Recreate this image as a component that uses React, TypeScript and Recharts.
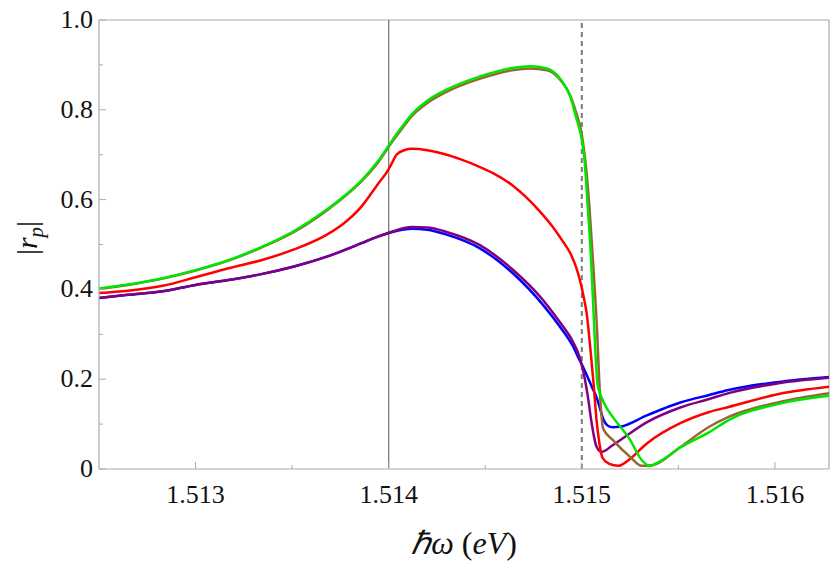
import { LineChart, Line, XAxis, YAxis, ReferenceLine } from 'recharts';

// energy axis (eV) and |r_p| values
const xMin = 1.5125;
const xMax = 1.51628;
const xTicks = [1.513, 1.5135, 1.514, 1.5145, 1.515, 1.5155, 1.516];
const yTicks = [0, 0.1, 0.2, 0.3, 0.4, 0.5, 0.6, 0.7, 0.8, 0.9, 1.0];

const greenX = [1.5125, 1.51265, 1.51283, 1.513, 1.51317, 1.51334, 1.51351, 1.51368, 1.51377, 1.51386, 1.51394, 1.51402, 1.51406, 1.51412, 1.5142, 1.5143, 1.51447, 1.51464, 1.51473, 1.51482, 1.51489, 1.51494, 1.51497, 1.515, 1.515014, 1.51503, 1.51505, 1.515066, 1.515081, 1.515102, 1.515123, 1.51516, 1.51525, 1.51531, 1.51535, 1.5154, 1.51551, 1.51566, 1.51576, 1.51602, 1.51628];
const greenY = [0.402, 0.411, 0.425, 0.443, 0.465, 0.494, 0.53, 0.578, 0.608, 0.643, 0.683, 0.733, 0.757, 0.79, 0.82, 0.845, 0.874, 0.893, 0.897, 0.892, 0.868, 0.83, 0.784, 0.733, 0.688, 0.59, 0.45, 0.3, 0.19, 0.16, 0.14, 0.116, 0.065, 0.02, 0.007, 0.016, 0.048, 0.082, 0.109, 0.145, 0.163];

const brownX = [1.5125, 1.51265, 1.51283, 1.513, 1.51317, 1.51334, 1.51351, 1.51368, 1.51377, 1.51386, 1.51394, 1.51402, 1.51406, 1.51412, 1.5142, 1.5143, 1.51447, 1.51464, 1.51473, 1.51482, 1.51489, 1.51494, 1.51497, 1.515, 1.51502, 1.51504, 1.51506, 1.51508, 1.51509, 1.5151, 1.51511, 1.51516, 1.51525, 1.51531, 1.51537, 1.51551, 1.51566, 1.51576, 1.51602, 1.51628];
const brownY = [0.401, 0.41, 0.424, 0.442, 0.464, 0.493, 0.528, 0.576, 0.606, 0.641, 0.68, 0.73, 0.753, 0.786, 0.815, 0.84, 0.869, 0.888, 0.892, 0.888, 0.866, 0.832, 0.795, 0.745, 0.68, 0.58, 0.45, 0.3, 0.2, 0.13, 0.09, 0.065, 0.027, 0.007, 0.009, 0.049, 0.094, 0.116, 0.149, 0.169];

const redX = [1.5125, 1.51265, 1.51283, 1.513, 1.51317, 1.51334, 1.51351, 1.51368, 1.51377, 1.51386, 1.51394, 1.514, 1.51402, 1.51404, 1.51408, 1.51412, 1.5142, 1.5143, 1.51437, 1.51447, 1.51454, 1.51464, 1.51471, 1.51478, 1.51485, 1.5149, 1.51494, 1.51497, 1.51499, 1.515009, 1.515025, 1.515045, 1.515061, 1.515076, 1.515092, 1.515107, 1.51514, 1.51519, 1.51523, 1.51534, 1.51551, 1.51566, 1.51576, 1.51602, 1.51628];
const redY = [0.392, 0.397, 0.408, 0.427, 0.447, 0.465, 0.489, 0.522, 0.548, 0.585, 0.632, 0.668, 0.684, 0.7, 0.71, 0.713, 0.71, 0.7, 0.69, 0.673, 0.659, 0.632, 0.606, 0.575, 0.539, 0.508, 0.481, 0.45, 0.421, 0.385, 0.347, 0.265, 0.19, 0.11, 0.055, 0.025, 0.012, 0.007, 0.016, 0.058, 0.102, 0.127, 0.138, 0.167, 0.183];

const purpleX = [1.5125, 1.51265, 1.51283, 1.513, 1.51317, 1.51334, 1.51351, 1.51368, 1.51386, 1.51394, 1.51402, 1.51412, 1.5142, 1.5143, 1.51447, 1.51464, 1.5148, 1.514885, 1.514952, 1.514988, 1.515009, 1.51503, 1.51505, 1.515076, 1.515102, 1.51516, 1.51534, 1.51551, 1.51566, 1.51576, 1.51602, 1.51628];
const purpleY = [0.381, 0.388, 0.396, 0.41, 0.421, 0.434, 0.451, 0.473, 0.503, 0.517, 0.529, 0.539, 0.538, 0.528, 0.499, 0.445, 0.376, 0.328, 0.285, 0.25, 0.215, 0.165, 0.105, 0.05, 0.038, 0.053, 0.105, 0.137, 0.156, 0.169, 0.191, 0.203];

const blueX = [1.5125, 1.51265, 1.51283, 1.513, 1.51317, 1.51334, 1.51351, 1.51368, 1.51386, 1.51394, 1.51402, 1.51412, 1.5142, 1.5143, 1.51447, 1.51464, 1.5148, 1.514885, 1.514952, 1.514988, 1.515009, 1.51503, 1.515055, 1.515076, 1.515092, 1.515112, 1.515133, 1.51516, 1.515195, 1.51534, 1.51551, 1.51566, 1.51576, 1.51602, 1.51628];
const blueY = [0.381, 0.388, 0.396, 0.41, 0.421, 0.434, 0.451, 0.473, 0.503, 0.517, 0.528, 0.535, 0.533, 0.522, 0.492, 0.437, 0.365, 0.318, 0.275, 0.243, 0.225, 0.205, 0.18, 0.16, 0.138, 0.11, 0.097, 0.093, 0.094, 0.12, 0.148, 0.165, 0.176, 0.194, 0.205];

const toPoints = (xs: number[], ys: number[]) => xs.map((x, i) => ({ x, y: ys[i] }));

// drawing order: blue under purple, green on top
const series = [
  { key: 'blue', color: '#0000ff', data: toPoints(blueX, blueY) },
  { key: 'purple', color: '#800080', data: toPoints(purpleX, purpleY) },
  { key: 'red', color: '#ff0000', data: toPoints(redX, redY) },
  { key: 'brown', color: '#996633', data: toPoints(brownX, brownY) },
  { key: 'green', color: '#00e600', data: toPoints(greenX, greenY) },
];

const serif = '"Liberation Serif", "Times New Roman", Times, serif';
const frameGray = '#ababab';

function XTick({ x, y, payload }: any) {
  const v = payload.value;
  const major = Math.abs(v * 1000 - Math.round(v * 1000)) < 1e-6;
  return (
    <g>
      <line x1={x} x2={x} y1={y} y2={y - (major ? 7 : 4)} stroke={frameGray} strokeWidth={1} />
      {major && (
        <text x={x} y={y + 34} textAnchor="middle" fontFamily={serif} fontSize={26} fill="#111">
          {v.toFixed(3)}
        </text>
      )}
    </g>
  );
}

function YTick({ x, y, payload }: any) {
  const v = payload.value;
  const major = Math.abs(v * 5 - Math.round(v * 5)) < 1e-6;
  return (
    <g>
      <line x1={x} x2={x + (major ? 7 : 4)} y1={y} y2={y} stroke={frameGray} strokeWidth={1} />
      {major && (
        <text x={x - 6} y={y + 8} textAnchor="end" fontFamily={serif} fontSize={26} fill="#111">
          {v === 0 ? '0' : v.toFixed(1)}
        </text>
      )}
    </g>
  );
}

export default function App() {
  return (
    <div style={{ position: 'absolute', left: 0, top: 0, width: 830, height: 566, background: '#fff' }}>
      <LineChart width={830} height={566} margin={{ top: 20, right: 1, bottom: 0, left: 0 }}>
        <XAxis
          type="number"
          dataKey="x"
          domain={[xMin, xMax]}
          ticks={xTicks}
          interval={0}
          allowDataOverflow
          height={97}
          tickSize={0}
          tickMargin={0}
          tickLine={false}
          axisLine={{ stroke: frameGray, strokeWidth: 1.2 }}
          tick={<XTick />}
        />
        <YAxis
          type="number"
          dataKey="y"
          domain={[0, 1]}
          ticks={yTicks}
          interval={0}
          allowDataOverflow
          width={99}
          tickSize={0}
          tickMargin={0}
          tickLine={false}
          axisLine={{ stroke: frameGray, strokeWidth: 1.2 }}
          tick={<YTick />}
        />
        <ReferenceLine y={1} stroke={frameGray} strokeWidth={1.2} />
        <ReferenceLine x={xMax} stroke={frameGray} strokeWidth={1.2} />
        <ReferenceLine x={1.514} stroke="#7a7a7a" strokeWidth={1.3} />
        <ReferenceLine x={1.515} stroke="#7a7a7a" strokeWidth={2} strokeDasharray="5 4" />
        {series.map((s) => (
          <Line
            key={s.key}
            data={s.data}
            dataKey="y"
            type="monotone"
            stroke={s.color}
            strokeWidth={2.5}
            dot={false}
            activeDot={false}
            isAnimationActive={false}
          />
        ))}
        <text x={464} y={554} textAnchor="middle" fontFamily={serif} fontSize={32} fill="#111">
          <tspan fontStyle="italic">ℏω</tspan> (<tspan fontStyle="italic">eV</tspan>)
        </text>
        <text transform="translate(37,238) rotate(-90)" textAnchor="middle" fontFamily={serif} fontSize={30} fill="#111">
          |<tspan fontStyle="italic">r</tspan>
          <tspan fontStyle="italic" fontSize={21} dy={6}>p</tspan>
          <tspan dy={-6}>|</tspan>
        </text>
      </LineChart>
    </div>
  );
}
